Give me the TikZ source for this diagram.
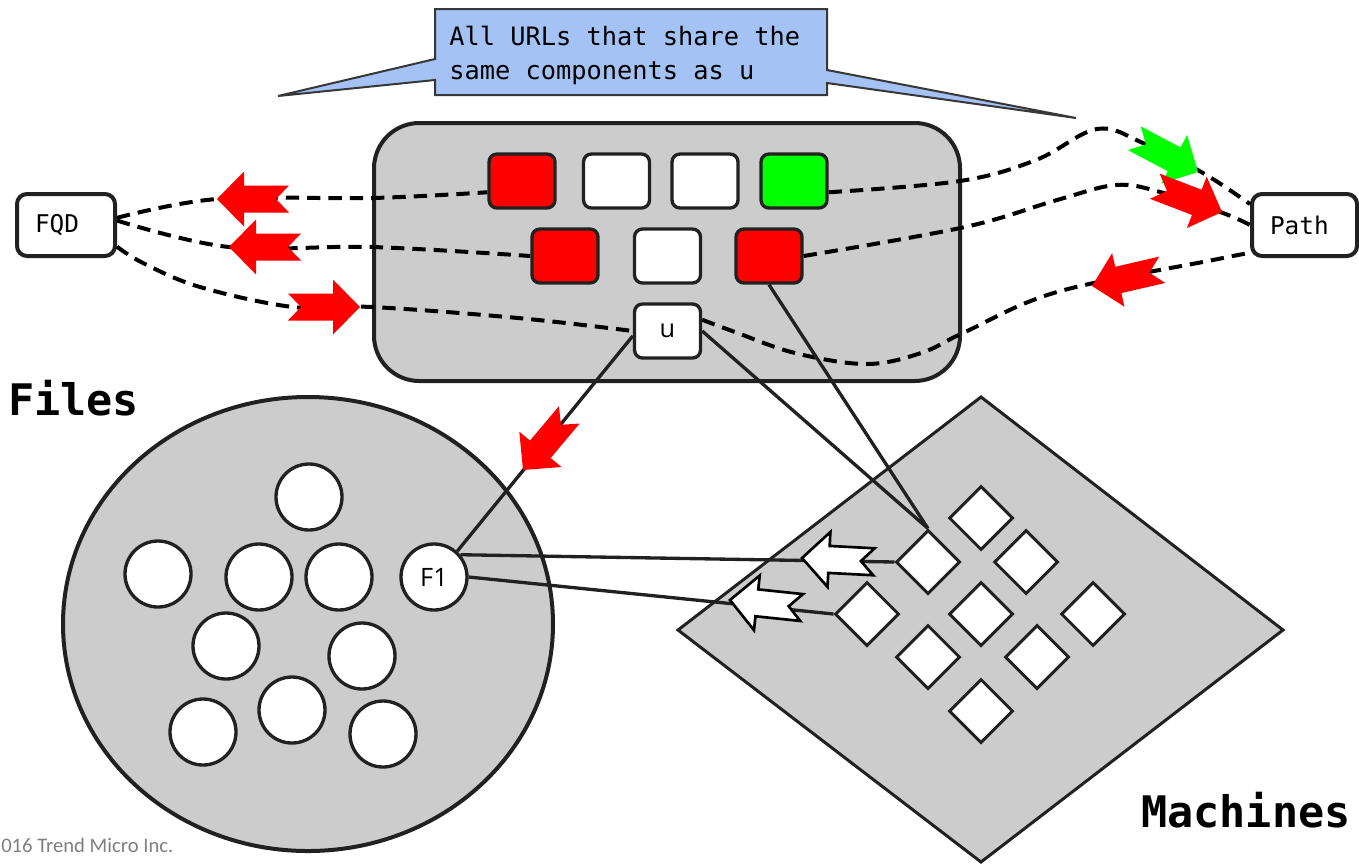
\documentclass[tikz,border=0pt]{standalone}
\usepackage{fontspec}
\setmonofont{DejaVu Sans Mono}
\newfontfamily\osans{Open Sans}
\newfontfamily\carlfont{Carlito}
\usetikzlibrary{shapes.geometric,calc}
\definecolor{ink}{HTML}{212121}
\definecolor{panel}{HTML}{CCCCCC}
\definecolor{callblue}{HTML}{A4C2F4}
\definecolor{hred}{HTML}{FF0000}
\definecolor{hgreen}{HTML}{00FF00}
\definecolor{copygray}{HTML}{7F7F7F}
\newcommand\notcharrow[4]{%
  \begin{scope}[shift={(#2,#3)},rotate=#4]
    \path[#1] (0,0) -- (-27,27.5) -- (-27,13.5) -- (-72,13.5) -- (-59,0)
      -- (-72,-13.5) -- (-27,-13.5) -- (-27,-27.5) -- cycle;
  \end{scope}}
\begin{document}
\begin{tikzpicture}[x=0.75pt,y=-0.75pt,
  sq/.style={rectangle, rounded corners=6pt, draw=ink, line width=2.5pt,
    minimum width=49.5pt, minimum height=40.5pt, inner sep=0pt},
  endbox/.style={rectangle, rounded corners=7.5pt, draw=ink, line width=3pt,
    fill=white, minimum height=46.5pt, inner xsep=13.5pt, align=left,
    font=\ttfamily\fontsize{18.3}{22}\selectfont},
  filenode/.style={circle, draw=ink, line width=2.5pt, fill=white,
    minimum size=49.5pt, inner sep=0pt, font=\osans\fontsize{19}{22}\selectfont},
  machine/.style={diamond, draw=ink, line width=2.25pt, fill=white,
    minimum width=48pt, minimum height=48pt, inner sep=0pt},
  link/.style={draw=ink, line width=2.5pt},
  dashlink/.style={draw=black, line width=3pt, dash pattern=on 10pt off 6pt},
  redarrow/.style={fill=hred},
  greenarrow/.style={fill=hgreen},
  whitearrow/.style={fill=white, draw=black, line width=2pt, line join=miter},
  title/.style={font=\ttfamily\bfseries\fontsize{32.6}{38}\selectfont,
    inner sep=0pt, anchor=base west}]
\useasboundingbox (0,0) rectangle (1359,865);

% callout
\draw[fill=callblue, draw=ink!90, line width=1.5pt, line join=miter]
  (435,9) -- (827,9) -- (827,70) -- (1076,118) -- (827,83) -- (827,95)
  -- (435,95) -- (435,80) -- (278,96) -- (435,59) -- cycle;
\node[anchor=west, align=left, inner sep=0pt,
  font=\ttfamily\fontsize{19}{25.5}\selectfont] (callout) at (449,55)
  {All URLs that share the\\same components as u};

% URL set panel
\node[rectangle, rounded corners=34pt, draw=ink, line width=3pt, fill=panel,
  minimum width=439.5pt, minimum height=193.5pt] (urlset) at (667,252) {};

% files and machines
\draw[fill=panel, draw=ink, line width=3pt] (308,624) ellipse [x radius=245, y radius=227];
\draw[fill=panel, draw=ink, line width=2.25pt, line join=miter]
  (981,397) -- (1283,630) -- (981,862) -- (678,630) -- cycle;

% end boxes
\node[endbox, minimum width=73.5pt, text width=46.5pt] (fqd) at (66,225) {FQD};
\node[endbox, minimum width=77.25pt, text width=51.75pt] (path) at (1304.5,225) {Path};

% URL squares
\node[sq, fill=hred]   (red1)   at (522,181) {};
\node[sq, fill=white]  (white1) at (616.5,181) {};
\node[sq, fill=white]  (white2) at (705,181) {};
\node[sq, fill=hgreen] (green)  at (794,181) {};
\node[sq, fill=hred]   (red2)   at (565,256) {};
\node[sq, fill=white]  (white3) at (667.5,256) {};
\node[sq, fill=hred]   (red3)   at (769,256) {};
\node[sq, fill=white, font=\osans\fontsize{19}{22}\selectfont] (u) at (667.5,331) {u};

% files
\node[filenode] (c1) at (309,497) {};
\node[filenode] (c2) at (158,574) {};
\node[filenode] (c3) at (259,577) {};
\node[filenode] (c4) at (339,577) {};
\node[filenode] (f1) at (434,577) {F1};
\node[filenode] (c6) at (226,646) {};
\node[filenode] (c7) at (362,656) {};
\node[filenode] (c8) at (203,732) {};
\node[filenode] (c9) at (292,710) {};
\node[filenode] (c10) at (383,734) {};

% machines
\node[machine] (m1) at (981,518) {};
\node[machine] (mb) at (928,562) {};
\node[machine] (m3) at (1026,562) {};
\node[machine] (md) at (867,614) {};
\node[machine] (m5) at (981,614) {};
\node[machine] (m6) at (1093,614) {};
\node[machine] (m7) at (928,657) {};
\node[machine] (m8) at (1037,657) {};
\node[machine] (m9) at (981,711) {};

% dashed component curves
\draw[dashlink] plot[smooth, tension=0.6] coordinates
  {(fqd.8) (217,199) (372,198) (red1.198)};
\draw[dashlink] plot[smooth, tension=0.6] coordinates
  {(fqd.5) (229,247) (372,247) (red2.west)};
\draw[dashlink] plot[smooth, tension=0.6] coordinates
  {(fqd.-23) (143,263) (200,287) (293,307) (372,307) (518,318) (u.west)};
\draw[dashlink] plot[smooth, tension=0.6] coordinates
  {(u.18) (735,332) (795,353) (866,364) (921,353) (965,332) (1057,292) (1213,260) (path.207)};
\draw[dashlink] plot[smooth, tension=0.6] coordinates
  {(green.-18) (960,181) (1036,160) (1097,129) (1143,143) (1203,173) (path.159)};
\draw[dashlink] plot[smooth, tension=0.6] coordinates
  {(red3.east) (965,227) (1057,200) (1116,185) (1160,192) (1223,213) (path.west)};

% solid links
\draw[link] (u.188) -- (f1.48);
\draw[link] (u.east) -- (mb.north);
\draw[link] (red3.south) -- (mb.north);
\draw[link] (f1.40) -- (mb.west);
\draw[link] (f1.east) -- (md.west);

% block arrows
\notcharrow{redarrow}{217}{199}{180}
\notcharrow{redarrow}{229}{247}{180}
\notcharrow{redarrow}{360}{307}{0}
\notcharrow{redarrow}{523}{470}{230}
\notcharrow{greenarrow}{1198}{172}{-28}
\notcharrow{redarrow}{1222}{212}{-21}
\notcharrow{redarrow}{1092}{286}{193}
\notcharrow{whitearrow}{802}{558}{177}
\notcharrow{whitearrow}{730}{600}{174}

% titles
\node[title] (files) at (8,415) {Files};
\node[title] (machines) at (1141,827) {Machines};
\node[font=\carlfont\fontsize{15.5}{18}\selectfont, text=copygray, anchor=base west,
  inner sep=0pt] (copy) at (1,852) {016 Trend Micro Inc.};
\end{tikzpicture}
\end{document}
